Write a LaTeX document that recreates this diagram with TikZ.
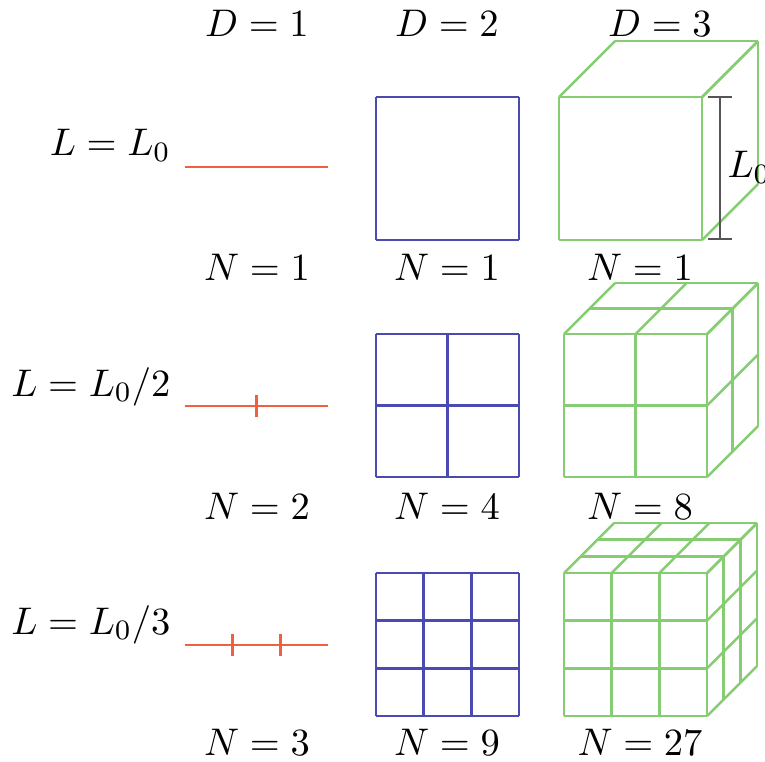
\documentclass[tikz,border=0pt]{standalone}
\usepackage{xcolor}
\usepackage{tikz}
\usepackage{amsmath}
\definecolor{segred}{HTML}{F0603F}
\definecolor{sqblue}{HTML}{4A4AB0}
\definecolor{cubegreen}{HTML}{86CC72}
\definecolor{bargray}{HTML}{555555}

\begin{document}
\begin{tikzpicture}[x=0.01cm,y=-0.01cm,font=\fontsize{10.8}{13}\selectfont,
  lbl/.style={inner sep=0pt,anchor=base},
  seg/.style={segred,line width=0.7pt},
  sq/.style={sqblue,line width=0.7pt},
  cube/.style={cubegreen,line width=0.7pt}]
  \useasboundingbox (0,0) rectangle (765,761);
  % column headings
  \node[lbl] (d1) at (257,37) {$D=1$};
  \node[lbl] (d2) at (447,37) {$D=2$};
  \node[lbl] (d3) at (660,37) {$D=3$};
  % row labels
  \node[lbl,anchor=base east] (l1) at (171,156) {$L=L_0$};
  \node[lbl,anchor=base east] (l2) at (171,396) {$L=L_0/2$};
  \node[lbl,anchor=base east] (l3) at (171,634) {$L=L_0/3$};
  % counts
  \node[lbl] (n11) at (257,280) {$N=1$};
  \node[lbl] (n12) at (447,280) {$N=1$};
  \node[lbl] (n13) at (640,280) {$N=1$};
  \node[lbl] (n21) at (257,519) {$N=2$};
  \node[lbl] (n22) at (447,519) {$N=4$};
  \node[lbl] (n23) at (640,519) {$N=8$};
  \node[lbl] (n31) at (257,755) {$N=3$};
  \node[lbl] (n32) at (447,755) {$N=9$};
  \node[lbl] (n33) at (640,755) {$N=27$};
  % D = 1 segments
  \foreach \n/\y in {1/167,2/406,3/645}{
    \draw[seg] (185,\y) -- (328,\y);
    \ifnum\n>1
      \foreach \i in {2,...,\n}{
        \draw[seg] ({185+(\i-1)*143/\n},\y-11) -- ({185+(\i-1)*143/\n},\y+11);
      }
    \fi
  }
  % D = 2 squares
  \foreach \n/\y in {1/97,2/334,3/573}{
    \foreach \i in {0,...,\n}{
      \draw[sq] ({376+\i*143/\n},\y) -- ({376+\i*143/\n},\y+143);
      \draw[sq] (376,{\y+\i*143/\n}) -- (519,{\y+\i*143/\n});
    }
  }
  % D = 3 cubes
  \foreach \n/\x/\y/\d in {1/559/97/56,2/564/334/51,3/564/573/50}{
    \foreach \i in {0,...,\n}{
      % front face
      \draw[cube] ({\x+\i*143/\n},\y) -- ({\x+\i*143/\n},\y+143);
      \draw[cube] (\x,{\y+\i*143/\n}) -- (\x+143,{\y+\i*143/\n});
      % top face
      \draw[cube] ({\x+\i*143/\n},\y) -- ({\x+\i*143/\n+\d},\y-\d);
      \draw[cube] ({\x+\i*\d/\n},{\y-\i*\d/\n}) -- ({\x+143+\i*\d/\n},{\y-\i*\d/\n});
      % right face
      \draw[cube] (\x+143,{\y+\i*143/\n}) -- (\x+143+\d,{\y+\i*143/\n-\d});
      \draw[cube] ({\x+143+\i*\d/\n},{\y-\i*\d/\n}) -- ({\x+143+\i*\d/\n},{\y+143-\i*\d/\n});
    }
  }
  % side length bar
  \coordinate (bt) at (720,97);
  \coordinate (bb) at (720,239);
  \draw[bargray,line width=0.7pt] (bt) -- (bb);
  \draw[bargray,line width=0.7pt] ([xshift=-0.12cm]bt) -- ([xshift=0.12cm]bt);
  \draw[bargray,line width=0.7pt] ([xshift=-0.12cm]bb) -- ([xshift=0.12cm]bb);
  \node[lbl,anchor=base west] (l0) at (727,178) {$L_0$};
\end{tikzpicture}
\end{document}
